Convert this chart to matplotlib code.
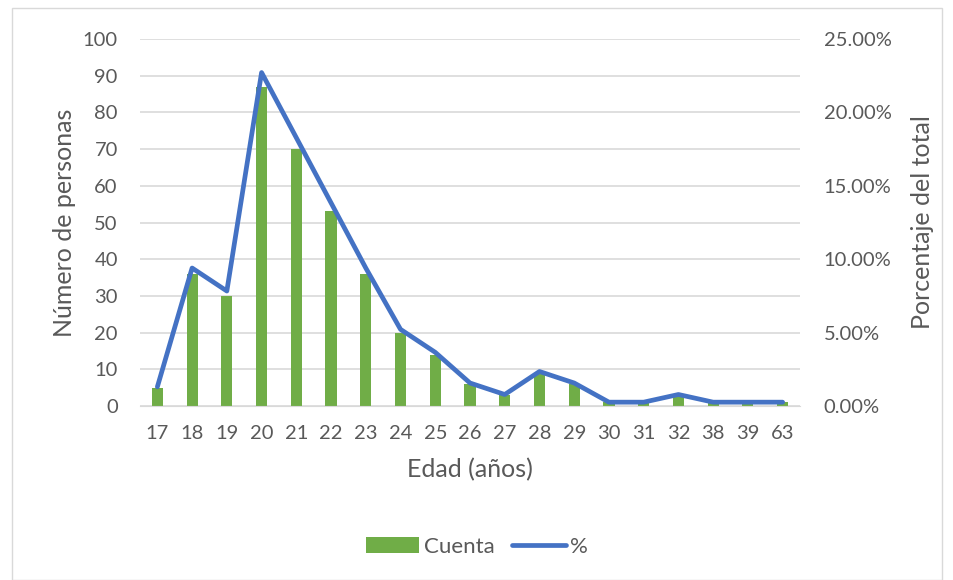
import numpy as np
import matplotlib
matplotlib.use('Agg')
import matplotlib.pyplot as plt
from matplotlib.ticker import FuncFormatter
from matplotlib.patches import Rectangle

edades = ['17', '18', '19', '20', '21', '22', '23', '24', '25', '26',
          '27', '28', '29', '30', '31', '32', '38', '39', '63']
cuenta = [5, 36, 30, 87, 70, 53, 36, 20, 14, 6, 3, 9, 6, 1, 1, 3, 1, 1, 1]
total = sum(cuenta)
porcentaje = [c / total for c in cuenta]

gris = '#595959'
plt.rcParams['font.family'] = ['Lato', 'DejaVu Sans']

fig = plt.figure(figsize=(9.54, 5.8), dpi=100)
ax = fig.add_axes([140/954, 1 - 406/580, 660/954, 367/580])
ax2 = ax.twinx()

x = np.arange(len(edades))
ax.bar(x, cuenta, width=0.32, color='#70AD47', label='Cuenta', zorder=2)
ax2.plot(x, porcentaje, color='#4472C4', lw=3.4, solid_joinstyle='round',
         solid_capstyle='round', label='%', zorder=3)

ax.set_xlim(-0.5, len(edades) - 0.5)
ax.set_ylim(0, 100)
ax2.set_ylim(0, 0.25)
ax.set_yticks(range(0, 101, 10))
ax2.set_yticks(np.arange(0, 0.2501, 0.05))
ax2.yaxis.set_major_formatter(FuncFormatter(lambda v, p: '%.2f%%' % (v * 100)))
ax.set_xticks(x)
ax.set_xticklabels(edades)

ax.grid(axis='y', color='#D9D9D9', lw=1.2, zorder=0)
ax.set_axisbelow(True)
for a in (ax, ax2):
    for s in a.spines.values():
        s.set_visible(False)
    a.tick_params(length=0, labelsize=14.5, colors=gris, pad=12)
ax.spines['bottom'].set_visible(True)
ax.spines['bottom'].set_color('#D9D9D9')
ax.tick_params(axis='x', pad=14)
ax.tick_params(axis='y', pad=16)
ax2.tick_params(axis='y', pad=17)

ax.set_ylabel('Número de personas', fontsize=18, color=gris, labelpad=5)
ax2.set_ylabel('Porcentaje del total', fontsize=18, color=gris, labelpad=14)
ax.set_xlabel('Edad (años)', fontsize=18, color=gris, labelpad=11)

h1, l1 = ax.get_legend_handles_labels()
h2, l2 = ax2.get_legend_handles_labels()
fig.legend(h1 + h2, l1 + l2, loc='center', bbox_to_anchor=(0.5, 1 - 547/580),
           ncol=2, frameon=False, fontsize=16, labelcolor=gris,
           handlelength=2.4, columnspacing=0.8, handletextpad=0.2)

fig.patches.append(Rectangle((12/954, 0.0), 1 - 24/954, 1 - 8/580,
                             transform=fig.transFigure, fill=False,
                             edgecolor='#D9D9D9', lw=1))

fig.savefig('out.png', dpi=100)
